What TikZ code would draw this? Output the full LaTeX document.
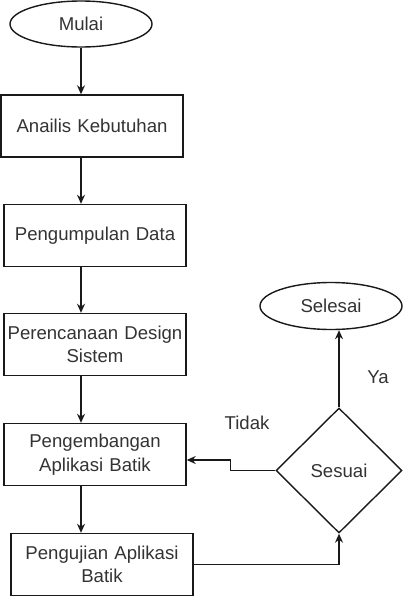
\documentclass[tikz,border=0pt]{standalone}
\usepackage{fontspec}
\setmainfont{Liberation Sans}
\usetikzlibrary{shapes.geometric,arrows.meta}
\begin{document}
\begin{tikzpicture}[x=1pt,y=-1pt,
  every node/.style={text=black!80, font=\fontsize{18.6}{23.5}\selectfont},
  line/.style={line width=1.4pt, draw=black!90},
  arr/.style={line, -{Stealth[length=9pt,width=8pt]}},
  procbox/.style={draw=black!90, line width=1.4pt, rectangle, minimum width=182pt, minimum height=62pt, inner sep=0pt, align=center, text width=178pt},
  term/.style={draw=black!90, line width=1.4pt, ellipse, minimum width=142pt, minimum height=46pt, inner sep=0pt},
  decision/.style={draw=black!90, line width=1.4pt, diamond, aspect=1, minimum width=126pt, minimum height=125pt, inner sep=0pt}]
\useasboundingbox (0,0) rectangle (404,597);
\node[term] (mulai) at (81,24) {Mulai};
\node[procbox] (b1) at (92,126) {Anailis Kebutuhan};
\node[procbox] (b2) at (95,235.5) {Pengumpulan Data};
\node[procbox] (b3) at (95,344.5) {Perencanaan Design\\Sistem};
\node[procbox] (b4) at (95,454.5) {Pengembangan\\Aplikasi Batik};
\node[procbox] (b5) at (102,564.5) {Pengujian Aplikasi\\Batik};
\node[decision] (d) at (339,470.5) {Sesuai};
\node[term, minimum height=47pt] (sel) at (331,306) {Selesai};
\node (ya) at (378,377) {Ya};
\node (tidak) at (247,423) {Tidak};
\draw[arr] (mulai.south) -- (mulai.south |- b1.north);
\draw[arr] (mulai.south |- b1.south) -- (mulai.south |- b2.north);
\draw[arr] (mulai.south |- b2.south) -- (mulai.south |- b3.north);
\draw[arr] (mulai.south |- b3.south) -- (mulai.south |- b4.north);
\draw[arr] (mulai.south |- b4.south) -- (mulai.south |- b5.north);
\draw[arr] (b5.east) -| (d.south);
\draw[arr] (d.north) -- (d.north |- sel.south);
\draw[arr] (d.west) -- ++(-45,0) |- ([yshift=-5.5pt]b4.east);
\end{tikzpicture}
\end{document}
